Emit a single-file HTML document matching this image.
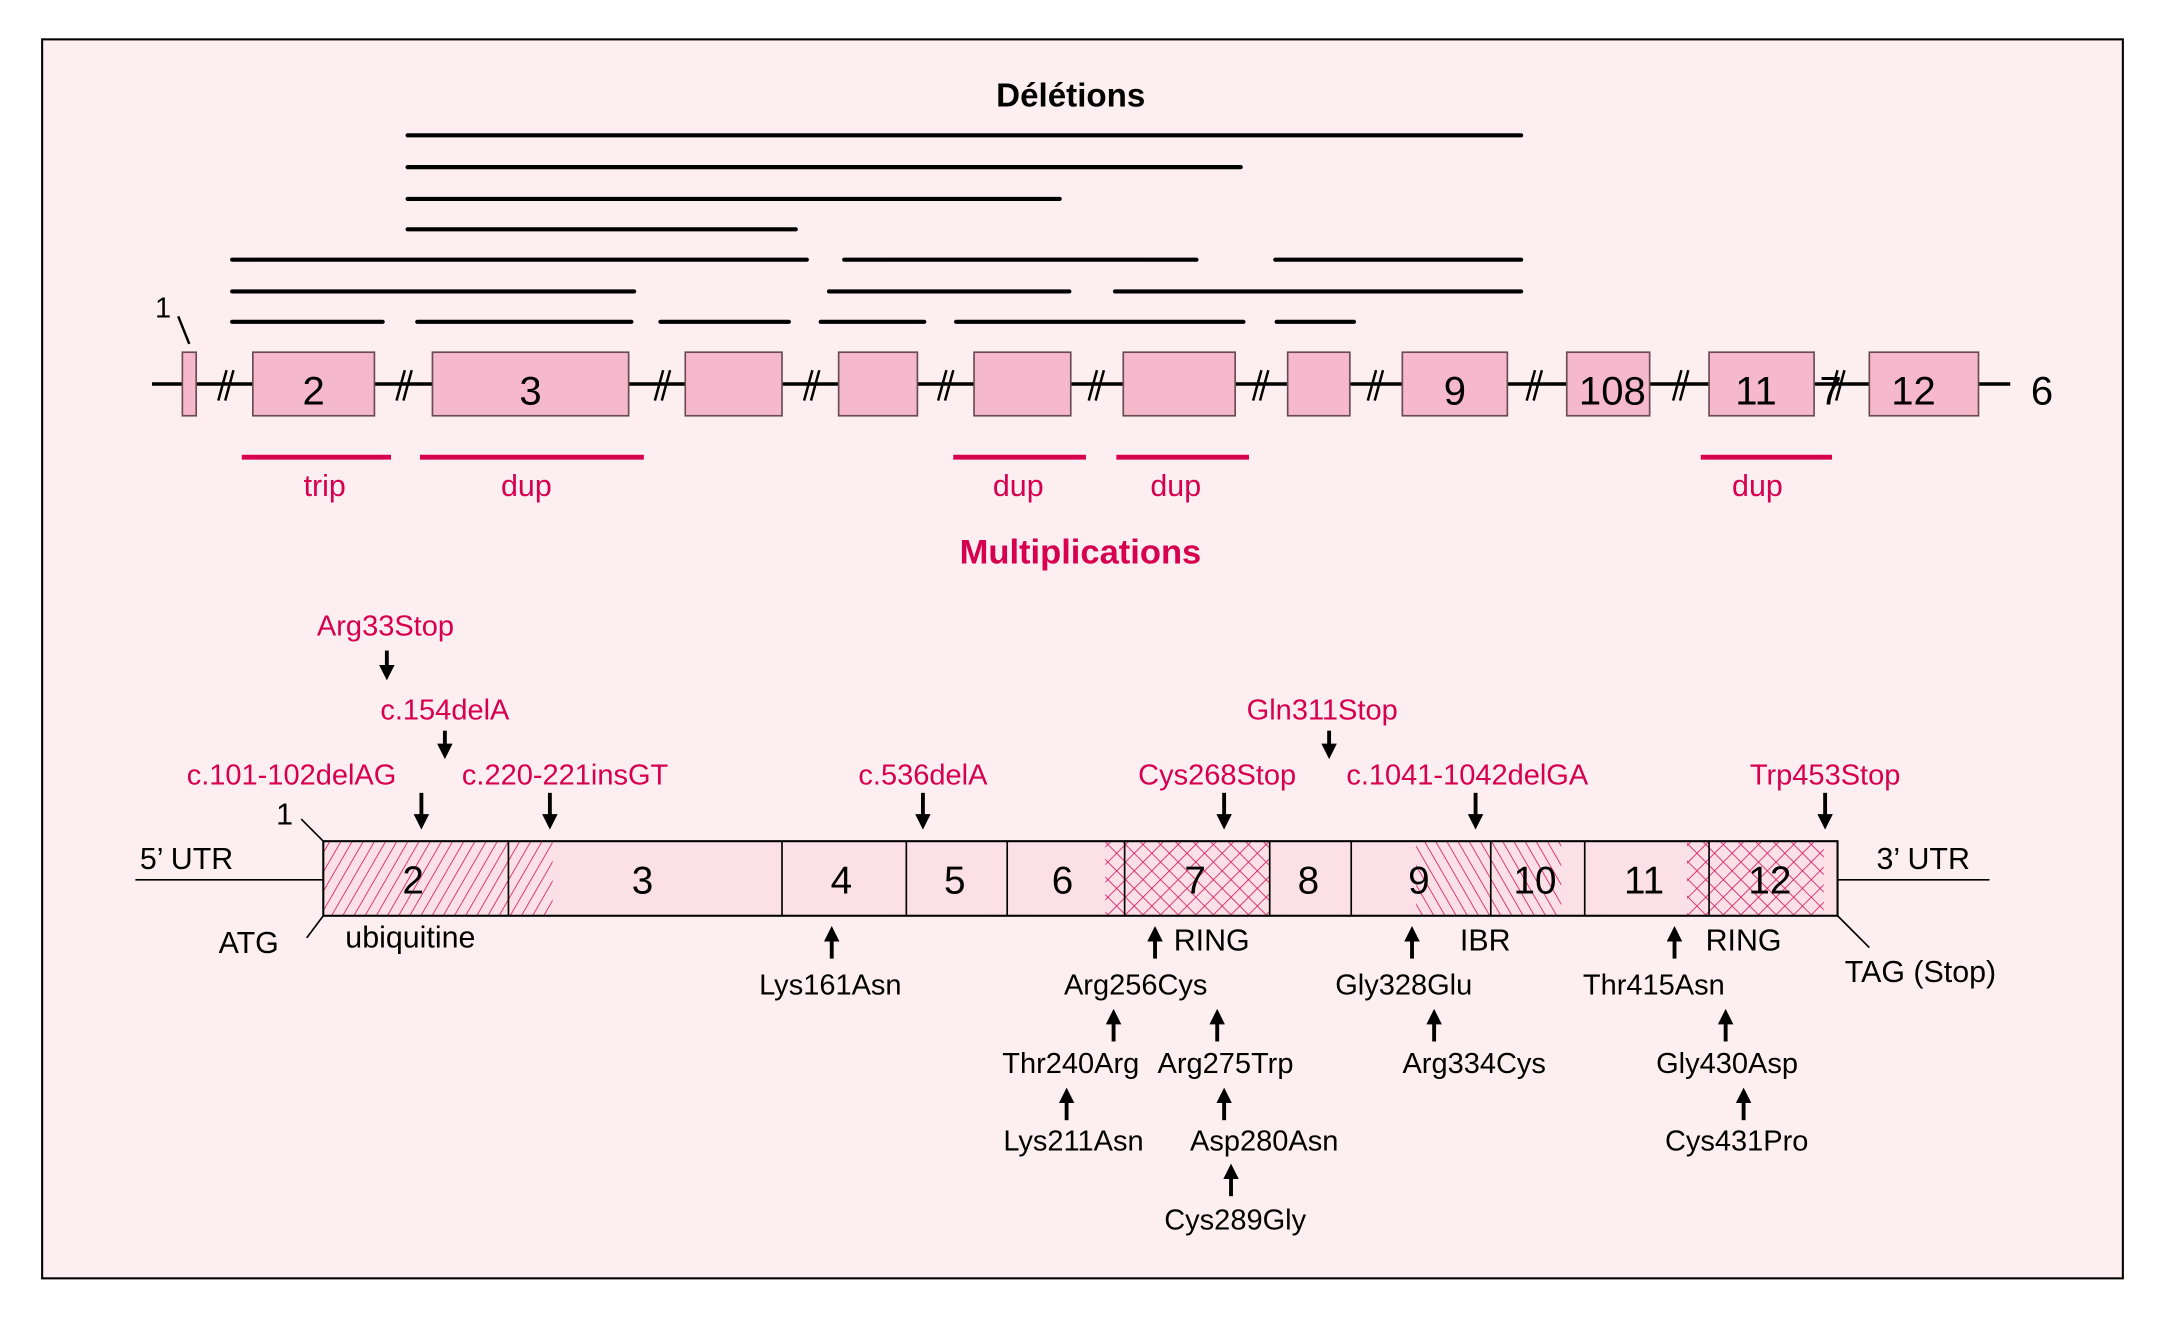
<!DOCTYPE html>
<html><head><meta charset="utf-8"><style>html,body{margin:0;padding:0;background:#fff}svg{display:block}</style></head><body>
<svg width="2165" height="1326" viewBox="0 0 1567 960" preserveAspectRatio="none" xmlns="http://www.w3.org/2000/svg" font-family="Liberation Sans, Arial, sans-serif">
<defs>
<pattern id="h1" width="7" height="7" patternUnits="userSpaceOnUse" patternTransform="rotate(30)"><line x1="0" y1="0" x2="0" y2="7" stroke="#d6195f" stroke-width="1.2"/></pattern>
<pattern id="h2" width="7" height="7" patternUnits="userSpaceOnUse" patternTransform="rotate(-30)"><line x1="0" y1="0" x2="0" y2="7" stroke="#d6195f" stroke-width="1.2"/></pattern>
<pattern id="hx" width="9" height="9" patternUnits="userSpaceOnUse" patternTransform="rotate(45)"><line x1="0" y1="0" x2="0" y2="9" stroke="#d6195f" stroke-width="1.2"/><line x1="0" y1="0" x2="9" y2="0" stroke="#d6195f" stroke-width="1.2"/></pattern>
<marker id="ar" markerWidth="4" markerHeight="4" refX="2" refY="2" orient="auto" markerUnits="strokeWidth"><path d="M0,0 L4,2 L0,4 z" fill="#000"/></marker>
</defs>
<rect x="0" y="0" width="1567" height="960" fill="#fff"/>
<rect x="30.5" y="28.5" width="1506" height="897" fill="#fdeef1" stroke="#000" stroke-width="1.5"/>
<text x="775" y="77" font-size="24" font-weight="bold" text-anchor="middle">Délétions</text>
<g stroke="#000" stroke-width="3" stroke-linecap="round">
<line x1="295" y1="98" x2="1101" y2="98"/>
<line x1="295" y1="121" x2="898" y2="121"/>
<line x1="295" y1="144" x2="767" y2="144"/>
<line x1="295" y1="166" x2="576" y2="166"/>
<line x1="168" y1="188" x2="584" y2="188"/><line x1="611" y1="188" x2="866" y2="188"/><line x1="923" y1="188" x2="1101" y2="188"/>
<line x1="168" y1="211" x2="459" y2="211"/><line x1="600" y1="211" x2="774" y2="211"/><line x1="807" y1="211" x2="1101" y2="211"/>
<line x1="168" y1="233" x2="277" y2="233"/><line x1="302" y1="233" x2="457" y2="233"/><line x1="478" y1="233" x2="571" y2="233"/><line x1="594" y1="233" x2="669" y2="233"/><line x1="692" y1="233" x2="900" y2="233"/><line x1="924" y1="233" x2="980" y2="233"/>
</g>
<line x1="110" y1="278" x2="1455" y2="278" stroke="#000" stroke-width="2.5"/>
<g fill="#f6b8cc" stroke="#6a4a55" stroke-width="1.2">
<rect x="132" y="255" width="10" height="46"/>
<rect x="183" y="255" width="88" height="46"/>
<rect x="313" y="255" width="142" height="46"/>
<rect x="496" y="255" width="70" height="46"/>
<rect x="607" y="255" width="57" height="46"/>
<rect x="705" y="255" width="70" height="46"/>
<rect x="813" y="255" width="81" height="46"/>
<rect x="932" y="255" width="45" height="46"/>
<rect x="1015" y="255" width="76" height="46"/>
<rect x="1134" y="255" width="60" height="46"/>
<rect x="1237" y="255" width="76" height="46"/>
<rect x="1353" y="255" width="79" height="46"/>
</g>
<g stroke="#000" stroke-width="1.8">
<path d="M158,290 L164,268 M163,290 L169,268"/>
<path d="M287,290 L293,268 M292,290 L298,268"/>
<path d="M474,290 L480,268 M479,290 L485,268"/>
<path d="M582,290 L588,268 M587,290 L593,268"/>
<path d="M679,290 L685,268 M684,290 L690,268"/>
<path d="M788,290 L794,268 M793,290 L799,268"/>
<path d="M907,290 L913,268 M912,290 L918,268"/>
<path d="M990,290 L996,268 M995,290 L1001,268"/>
<path d="M1105,290 L1111,268 M1110,290 L1116,268"/>
<path d="M1211,290 L1217,268 M1216,290 L1222,268"/>
<path d="M1324,290 L1330,268 M1329,290 L1335,268"/>
<line x1="129" y1="229" x2="137" y2="249"/>
</g>
<text x="118" y="230" font-size="21" text-anchor="middle">1</text>
<g font-size="29" text-anchor="middle">
<text x="227" y="293">2</text><text x="384" y="293">3</text><text x="1053" y="293">9</text><text x="1167" y="293">108</text><text x="1271" y="293">11</text><text x="1325" y="293">7</text><text x="1385" y="293">12</text><text x="1478" y="293">6</text>
</g>
<g stroke="#d6004f" stroke-width="3.5">
<line x1="175" y1="331" x2="283" y2="331"/><line x1="304" y1="331" x2="466" y2="331"/><line x1="690" y1="331" x2="786" y2="331"/><line x1="808" y1="331" x2="904" y2="331"/><line x1="1231" y1="331" x2="1326" y2="331"/>
</g>
<g fill="#d6004f" font-size="22" text-anchor="middle">
<text x="235" y="359">trip</text><text x="381" y="359">dup</text><text x="737" y="359">dup</text><text x="851" y="359">dup</text><text x="1272" y="359">dup</text>
</g>
<text x="782" y="408" font-size="25" font-weight="bold" fill="#d6004f" text-anchor="middle">Multiplications</text>
<rect x="234" y="609" width="1096" height="54" fill="#fbe0e8"/>
<rect x="234" y="609" width="166" height="54" fill="url(#h1)"/>
<rect x="800" y="609" width="119" height="54" fill="url(#hx)"/>
<rect x="1025" y="609" width="105" height="54" fill="url(#h2)"/>
<rect x="1221" y="609" width="99" height="54" fill="url(#hx)"/>
<rect x="234" y="609" width="1096" height="54" fill="none" stroke="#000" stroke-width="1.5"/>
<g stroke="#000" stroke-width="1.2">
<line x1="368" y1="609" x2="368" y2="663"/><line x1="566" y1="609" x2="566" y2="663"/><line x1="656" y1="609" x2="656" y2="663"/><line x1="729" y1="609" x2="729" y2="663"/><line x1="814" y1="609" x2="814" y2="663"/><line x1="919" y1="609" x2="919" y2="663"/><line x1="978" y1="609" x2="978" y2="663"/><line x1="1079" y1="609" x2="1079" y2="663"/><line x1="1147" y1="609" x2="1147" y2="663"/><line x1="1237" y1="609" x2="1237" y2="663"/>
<line x1="98" y1="637" x2="234" y2="637"/><line x1="1330" y1="637" x2="1440" y2="637"/>
<line x1="218" y1="593" x2="234" y2="609"/><line x1="222" y1="679" x2="234" y2="663"/><line x1="1330" y1="663" x2="1353" y2="686"/>
</g>
<g font-size="28" text-anchor="middle">
<text x="299" y="647">2</text><text x="465" y="647">3</text><text x="609" y="647">4</text><text x="691" y="647">5</text><text x="769" y="647">6</text><text x="865" y="647">7</text><text x="947" y="647">8</text><text x="1027" y="647">9</text><text x="1111" y="647">10</text><text x="1190" y="647">11</text><text x="1281" y="647">12</text>
</g>
<g font-size="22" text-anchor="middle">
<text x="135" y="629">5’ UTR</text><text x="1392" y="629">3’ UTR</text><text x="206" y="597">1</text><text x="180" y="690">ATG</text><text x="297" y="686">ubiquitine</text><text x="1390" y="711">TAG (Stop)</text>
<text x="877" y="688">RING</text><text x="1075" y="688">IBR</text><text x="1262" y="688">RING</text>
</g>
<g fill="#d6004f" font-size="21" text-anchor="middle">
<text x="279" y="460">Arg33Stop</text><text x="322" y="521">c.154delA</text><text x="211" y="568">c.101-102delAG</text><text x="409" y="568">c.220-221insGT</text><text x="668" y="568">c.536delA</text><text x="881" y="568">Cys268Stop</text><text x="957" y="521">Gln311Stop</text><text x="1062" y="568">c.1041-1042delGA</text><text x="1321" y="568">Trp453Stop</text>
</g>
<g stroke="#000" stroke-width="2.8" marker-end="url(#ar)">
<line x1="280" y1="471" x2="280" y2="487"/><line x1="322" y1="529" x2="322" y2="544"/><line x1="305" y1="574" x2="305" y2="595"/><line x1="398" y1="574" x2="398" y2="595"/><line x1="668" y1="574" x2="668" y2="595"/><line x1="886" y1="574" x2="886" y2="595"/><line x1="962" y1="529" x2="962" y2="544"/><line x1="1068" y1="574" x2="1068" y2="595"/><line x1="1321" y1="574" x2="1321" y2="595"/>
<line x1="602" y1="694" x2="602" y2="676"/><line x1="836" y1="694" x2="836" y2="676"/><line x1="1022" y1="694" x2="1022" y2="676"/><line x1="1212" y1="694" x2="1212" y2="676"/>
<line x1="806" y1="754" x2="806" y2="736"/><line x1="881" y1="754" x2="881" y2="736"/><line x1="1038" y1="754" x2="1038" y2="736"/><line x1="1249" y1="754" x2="1249" y2="736"/>
<line x1="772" y1="811" x2="772" y2="793"/><line x1="886" y1="811" x2="886" y2="793"/><line x1="1262" y1="811" x2="1262" y2="793"/>
<line x1="891" y1="866" x2="891" y2="848"/>
</g>
<g font-size="21" text-anchor="middle">
<text x="601" y="720">Lys161Asn</text><text x="822" y="720">Arg256Cys</text><text x="775" y="777">Thr240Arg</text><text x="887" y="777">Arg275Trp</text><text x="777" y="833">Lys211Asn</text><text x="915" y="833">Asp280Asn</text><text x="894" y="890">Cys289Gly</text>
<text x="1016" y="720">Gly328Glu</text><text x="1067" y="777">Arg334Cys</text><text x="1197" y="720">Thr415Asn</text><text x="1250" y="777">Gly430Asp</text><text x="1257" y="833">Cys431Pro</text>
</g>
</svg>
</body></html>
